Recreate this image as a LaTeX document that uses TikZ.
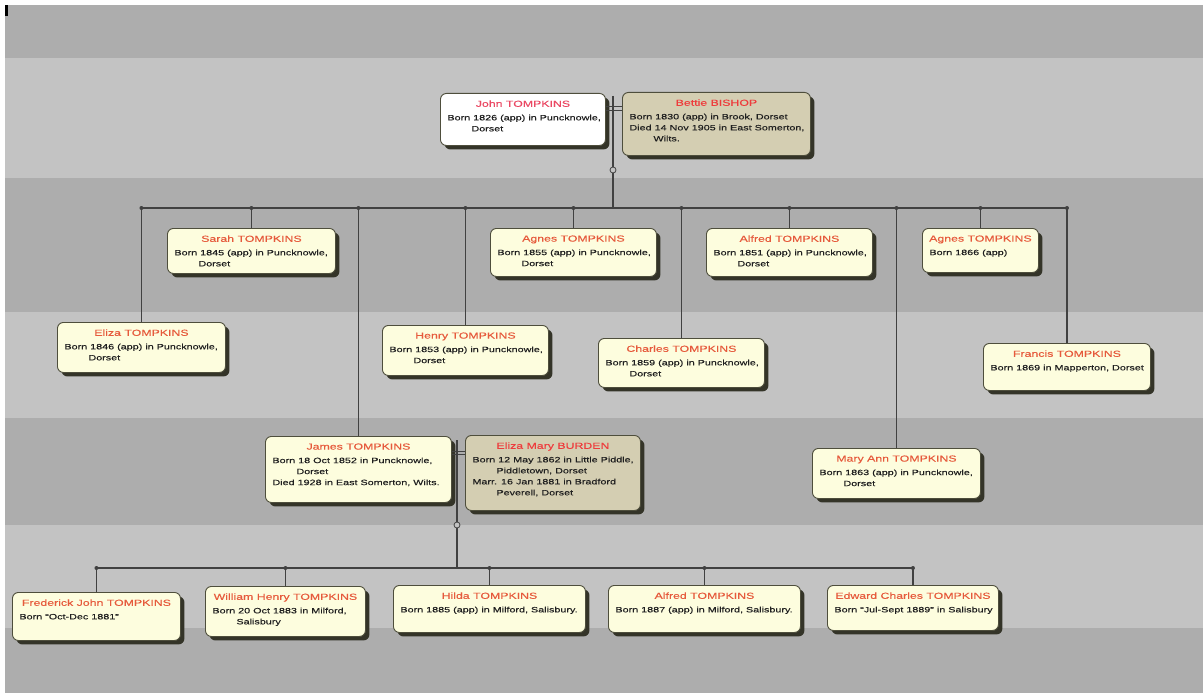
\documentclass[tikz,border=0pt]{standalone}
\usepackage{fontspec}
\setmainfont{Liberation Sans}
\newfontfamily\wideface[FakeStretch=1.4,FakeBold=0.25]{Liberation Sans}
\usetikzlibrary{shadows}
\definecolor{bandD}{RGB}{173,173,173}
\definecolor{bandL}{RGB}{195,195,195}
\definecolor{boxfill}{RGB}{253,253,222}
\definecolor{tanfill}{RGB}{212,206,178}
\definecolor{edgecol}{RGB}{78,78,60}
\definecolor{shadecol}{RGB}{52,52,40}
\definecolor{namered}{RGB}{230,90,60}
\definecolor{brightred}{RGB}{238,60,60}
\definecolor{linecol}{RGB}{65,65,65}

\newcommand{\nm}[1]{{\wideface\fontsize{8.8}{10}\selectfont #1}}
\newcommand{\bd}{\wideface\fontsize{7.7}{11}\selectfont\color{black!88}}
\newcommand{\card}[5][namered]{\parbox[t][#3][t]{#2}{\vspace*{7pt}\centering\textcolor{#1}{\nm{#4}}\par\vspace{2.5pt}\raggedright\bd\leftskip=7pt\relax #5\par}}
\newcommand{\ind}{\\\hspace*{24pt}}

\tikzset{
  card/.style={draw=edgecol, line width=0.9pt, rounded corners=6pt, fill=boxfill,
    inner sep=0pt, anchor=north west,
    drop shadow={shadow xshift=4pt, shadow yshift=-4pt, fill=shadecol, opacity=1}},
  tancard/.style={card, fill=tanfill},
  whitecard/.style={card, fill=white},
  link/.style={draw=linecol, line width=1.2pt},
  ring/.style={circle, draw=linecol, fill=bandL, line width=0.8pt, inner sep=0pt, minimum size=6pt},
}

\begin{document}
\begin{tikzpicture}[x=1pt, y=-1pt]
\useasboundingbox (0,0) rectangle (1203,693);
% background bands
\fill[white] (0,0) rectangle (1203,693);
\fill[bandD] (5,5) rectangle (1203,58);
\fill[bandL] (5,58) rectangle (1203,178);
\fill[bandD] (5,178) rectangle (1203,312);
\fill[bandL] (5,312) rectangle (1203,418);
\fill[bandD] (5,418) rectangle (1203,525);
\fill[bandL] (5,525) rectangle (1203,628);
\fill[bandD] (5,628) rectangle (1203,693);
\fill[black] (5,5) rectangle (8,16);

% coordinates for family connectors
\coordinate (m1) at (613,96);
\coordinate (m1a) at (613,107);
\coordinate (m1b) at (613,110);
\coordinate (bar1) at (613,208);
\coordinate (m2) at (457,440);
\coordinate (m2a) at (457,451);
\coordinate (m2b) at (457,454);
\coordinate (bar2) at (457,568);

% generation 1
\node[whitecard] (john) at (440,93) {\card[namered!80!magenta]{165pt}{52pt}{John TOMPKINS}{Born 1826 (app) in Puncknowle,\ind Dorset}};
\node[tancard] (bettie) at (622,92) {\card[brightred]{188pt}{63pt}{Bettie BISHOP}{Born 1830 (app) in Brook, Dorset\\Died 14 Nov 1905 in East Somerton,\ind Wilts.}};

% generation 2
\node[card] (sarah) at (167,228) {\card{168pt}{45pt}{Sarah TOMPKINS}{Born 1845 (app) in Puncknowle,\ind Dorset}};
\node[card] (eliza) at (57,322) {\card{168pt}{50pt}{Eliza TOMPKINS}{Born 1846 (app) in Puncknowle,\ind Dorset}};
\node[card] (agnes) at (490,228) {\card{166pt}{48pt}{Agnes TOMPKINS}{Born 1855 (app) in Puncknowle,\ind Dorset}};
\node[card] (henry) at (382,325) {\card{166pt}{50pt}{Henry TOMPKINS}{Born 1853 (app) in Puncknowle,\ind Dorset}};
\node[card] (alfred) at (706,228) {\card{166pt}{48pt}{Alfred TOMPKINS}{Born 1851 (app) in Puncknowle,\ind Dorset}};
\node[card] (charles) at (598,338) {\card{166pt}{49pt}{Charles TOMPKINS}{Born 1859 (app) in Puncknowle,\ind Dorset}};
\node[card] (agnestwo) at (922,228) {\card{116pt}{44pt}{Agnes TOMPKINS}{Born 1866 (app)}};
\node[card] (francis) at (983,343) {\card{167pt}{47pt}{Francis TOMPKINS}{Born 1869 in Mapperton, Dorset}};
\node[card] (james) at (265,436) {\card{186pt}{66pt}{James TOMPKINS}{Born 18 Oct 1852 in Puncknowle,\ind Dorset\\Died 1928 in East Somerton, Wilts.}};
\node[tancard] (elizamary) at (465,435) {\card[brightred]{175pt}{75pt}{Eliza Mary BURDEN}{Born 12 May 1862 in Little Piddle,\ind Piddletown, Dorset\\Marr. 16 Jan 1881 in Bradford\ind Peverell, Dorset}};
\node[card] (maryann) at (812,448) {\card{168pt}{50pt}{Mary Ann TOMPKINS}{Born 1863 (app) in Puncknowle,\ind Dorset}};

% generation 3
\node[card] (fred) at (12,592) {\card{168pt}{48pt}{Frederick John TOMPKINS}{Born “Oct-Dec 1881”}};
\node[card] (william) at (205,586) {\card{160pt}{50pt}{William Henry TOMPKINS}{Born 20 Oct 1883 in Milford,\ind Salisbury}};
\node[card] (hilda) at (393,585) {\card{192pt}{47pt}{Hilda TOMPKINS}{Born 1885 (app) in Milford, Salisbury.}};
\node[card] (alfredtwo) at (608,585) {\card{192pt}{47pt}{Alfred TOMPKINS}{Born 1887 (app) in Milford, Salisbury.}};
\node[card] (edward) at (827,585) {\card{171pt}{45pt}{Edward Charles TOMPKINS}{Born “Jul-Sept 1889” in Salisbury}};

% family 1 connectors
\draw[link, line width=1pt] (john.east |- m1a) -- (bettie.west |- m1a);
\draw[link, line width=1pt] (john.east |- m1b) -- (bettie.west |- m1b);
\node[ring] (ring1) at (613,170) {};
\draw[link] (m1) -- (ring1.north);
\draw[link] (ring1.south) -- (bar1);
\foreach \c in {eliza,sarah,james,henry,agnes,charles,alfred,maryann,agnestwo,francis}{
  \draw[link] (bar1) -| (\c.north);
  \fill[linecol] (\c.north |- bar1) circle (2pt);
}

% family 2 connectors
\draw[link, line width=1pt] (james.east |- m2a) -- (elizamary.west |- m2a);
\draw[link, line width=1pt] (james.east |- m2b) -- (elizamary.west |- m2b);
\node[ring] (ring2) at (457,525) {};
\draw[link] (m2) -- (ring2.north);
\draw[link] (ring2.south) -- (bar2);
\foreach \c in {fred,william,hilda,alfredtwo,edward}{
  \draw[link] (bar2) -| (\c.north);
  \fill[linecol] (\c.north |- bar2) circle (2pt);
}
\end{tikzpicture}
\end{document}
